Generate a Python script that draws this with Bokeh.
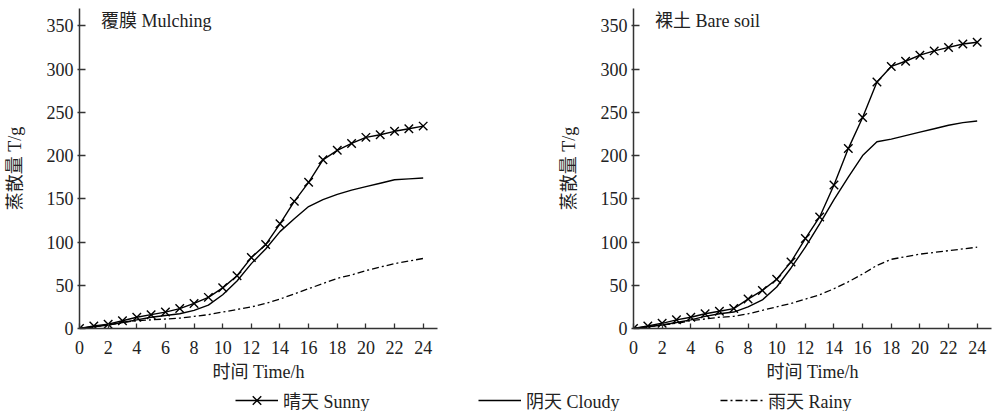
from bokeh.plotting import figure
from bokeh.layouts import column, row
from bokeh.models import Range1d, Label, Legend, LegendItem, FixedTicker
from bokeh.embed import file_html
from bokeh.resources import INLINE

hours = list(range(25))
x_ticks = list(range(0, 25, 2))
y_ticks = list(range(0, 351, 50))

mulch_sunny = [0, 3, 5, 9, 13, 16, 19, 23, 29, 36, 47, 61, 82, 97, 121, 147, 169, 195, 206, 214, 221, 224, 228, 231, 234]
mulch_cloudy = [0, 2, 4, 7, 10, 13, 15, 17, 21, 27, 39, 55, 75, 92, 112, 127, 141, 149, 155, 160, 164, 168, 172, 173, 174]
mulch_rainy = [0, 2, 4, 7, 9, 10, 11, 12, 14, 16, 19, 22, 25, 29, 34, 40, 46, 52, 58, 62, 67, 71, 75, 78, 81]

bare_sunny = [0, 3, 6, 10, 13, 17, 20, 23, 34, 44, 57, 77, 104, 129, 166, 208, 244, 285, 303, 309, 316, 321, 325, 329, 331]
bare_cloudy = [0, 2, 4, 7, 10, 14, 17, 19, 25, 33, 48, 70, 94, 121, 149, 175, 200, 216, 219, 223, 227, 231, 235, 238, 240]
bare_rainy = [0, 2, 4, 6, 9, 11, 13, 14, 17, 21, 25, 29, 34, 39, 46, 54, 63, 73, 80, 83, 86, 88, 90, 92, 94]

panel_titles = ["覆膜 Mulching", "裸土 Bare soil"]
series_labels = ["晴天 Sunny", "阴天 Cloudy", "雨天 Rainy"]
x_label = "时间 Time/h"
y_label = "蒸散量 T/g"

FONT = "Liberation Serif, Noto Sans CJK SC"
FS = "18px"
RAINY_DASH = "7 3 2 3"


def make_panel(title, sunny, cloudy, rainy, width, border_right):
    p = figure(width=width, height=384, x_range=Range1d(0, 25), y_range=Range1d(0, 370),
               output_backend="svg", toolbar_location=None,
               min_border_left=79, min_border_right=border_right,
               min_border_top=8, min_border_bottom=54)
    p.grid.visible = False
    p.outline_line_color = None
    p.xaxis.ticker = FixedTicker(ticks=x_ticks)
    p.yaxis.ticker = FixedTicker(ticks=y_ticks)
    p.axis.minor_tick_line_color = None
    p.axis.axis_line_color = "#333333"
    p.axis.axis_line_width = 1.5
    p.axis.major_tick_line_color = "#333333"
    p.axis.major_tick_line_width = 1.3
    p.xaxis.major_tick_in = 5
    p.xaxis.major_tick_out = 0
    p.yaxis.major_tick_in = 6
    p.yaxis.major_tick_out = 2
    p.axis.major_label_text_font = FONT
    p.axis.major_label_text_font_size = FS
    p.axis.major_label_text_color = "#222222"
    p.xaxis.major_label_standoff = 12
    p.yaxis.major_label_standoff = 4
    p.xaxis.axis_label = x_label
    p.yaxis.axis_label = y_label
    p.axis.axis_label_text_font = FONT
    p.axis.axis_label_text_font_size = FS
    p.axis.axis_label_text_font_style = "normal"
    p.axis.axis_label_text_color = "#222222"
    p.xaxis.axis_label_standoff = 5
    p.yaxis.axis_label_standoff = 19

    p.line(hours, rainy, line_color="black", line_width=1.3, line_dash=RAINY_DASH)
    p.line(hours, cloudy, line_color="black", line_width=1.4)
    p.line(hours, sunny, line_color="black", line_width=1.4)
    p.scatter(hours, sunny, marker="x", size=12, line_color="black", line_width=1.4)

    p.add_layout(Label(x=1.5, y=355, text=title, text_baseline="middle",
                       text_font=FONT, text_font_size=FS, text_color="#222222"))
    return p


p1 = make_panel(panel_titles[0], mulch_sunny, mulch_cloudy, mulch_rainy, 554, 117)
p2 = make_panel(panel_titles[1], bare_sunny, bare_cloudy, bare_rainy, 438, 1)

leg = figure(width=992, height=27, output_backend="svg", toolbar_location=None,
             x_range=Range1d(0, 1), y_range=Range1d(0, 1),
             x_axis_location=None, y_axis_location=None, min_border=0)
leg.grid.visible = False
leg.outline_line_color = None

hx = [5, 6]
hy = [5, 5]
r_s_line = leg.line(hx, hy, line_color="black", line_width=1.4)
r_s_mark = leg.scatter(hx, hy, marker="x", size=12, line_color="black", line_width=1.4)
r_c_line = leg.line(hx, hy, line_color="black", line_width=1.4)
r_r_line = leg.line(hx, hy, line_color="black", line_width=1.3, line_dash=RAINY_DASH)

items = [
    (series_labels[0], [r_s_line, r_s_mark], 235),
    (series_labels[1], [r_c_line], 478),
    (series_labels[2], [r_r_line], 720),
]
for label, rends, xpos in items:
    lg = Legend(items=[LegendItem(label=label, renderers=rends)], location=(xpos, -4),
                orientation="horizontal", padding=0, margin=0, spacing=0,
                border_line_color=None, background_fill_alpha=0,
                glyph_width=43, glyph_height=30, label_standoff=5, label_height=30,
                label_text_font=FONT, label_text_font_size=FS, label_text_color="#222222")
    leg.add_layout(lg, "center")

layout = column(row(p1, p2), leg)

with open("out.html", "w") as f:
    f.write(file_html(layout, INLINE))
